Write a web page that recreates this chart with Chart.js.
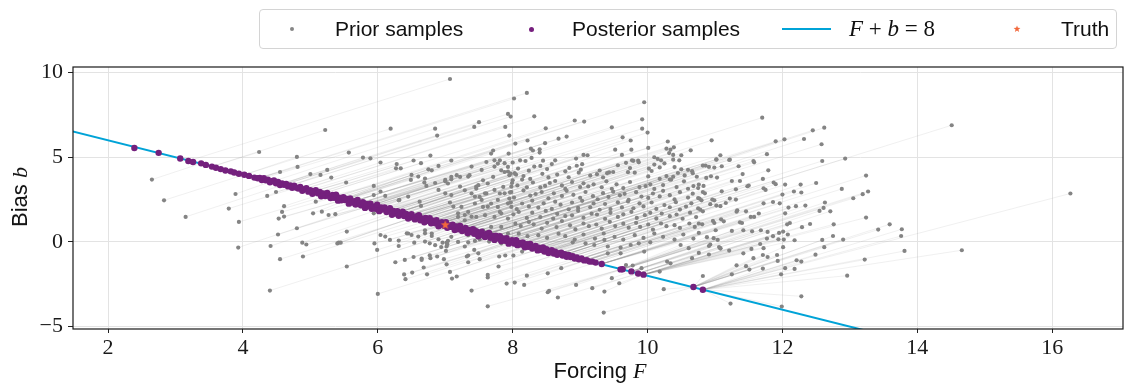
<!DOCTYPE html>
<html>
<head>
<meta charset="utf-8">
<script src="https://cdn.jsdelivr.net/npm/chart.js@4.4.0/dist/chart.umd.min.js"></script>
<style>
  html, body { margin: 0; padding: 0; background: #fff; }
  #wrap { position: relative; width: 1129px; height: 387px; overflow: hidden; }
  #plot { position: absolute; left: 0; top: 0; }
  .ov { position: absolute; color: #111; white-space: nowrap; z-index: 2; }
  .sans { font-family: 'Liberation Sans', 'DejaVu Sans', sans-serif; font-size: 21px; }
  .math { font-family: 'Liberation Serif', 'DejaVu Serif', serif; }
  .math i { font-style: italic; }
  #legendBox { position: absolute; left: 259px; top: 9px; width: 858px; height: 40px; box-sizing: border-box;
               border: 1px solid #d4d4d4; border-radius: 4px; background: rgba(255,255,255,0.85); z-index: 1; }
  .dot { position: absolute; border-radius: 50%; z-index: 2; }
</style>
</head>
<body>
<div id="wrap">
  <canvas id="plot" width="1129" height="387"></canvas>

  <div id="legendBox"></div>
  <div class="dot" style="left:290px;top:27px;width:4px;height:4px;background:#868686"></div>
  <div class="ov sans" style="left:335px;top:14px;line-height:30px">Prior samples</div>
  <div class="dot" style="left:528.5px;top:26.5px;width:5px;height:5px;background:#761f7e"></div>
  <div class="ov sans" style="left:572px;top:14px;line-height:30px">Posterior samples</div>
  <div style="position:absolute;left:782px;top:28px;width:49px;height:2px;background:#00a3d7;z-index:2"></div>
  <div class="ov math" style="left:849px;top:14px;line-height:30px;font-size:23px"><i>F</i> + <i>b</i> = 8</div>
  <svg style="position:absolute;left:1013px;top:25px;z-index:2" width="8" height="8" viewBox="0 0 10 10">
    <polygon points="5,0.5 6.12,3.46 9.28,3.61 6.81,5.59 7.65,8.64 5,6.9 2.35,8.64 3.19,5.59 0.72,3.61 3.88,3.46" fill="#f2683c"/>
  </svg>
  <div class="ov sans" style="left:1061px;top:14px;line-height:30px">Truth</div>

  <div class="ov sans" style="left:20px;top:197px;transform:translate(-50%,-50%) rotate(-90deg);font-size:22px">Bias <span class="math"><i>b</i></span></div>
  <div class="ov sans" style="left:600px;top:371px;transform:translate(-50%,-50%);font-size:22px">Forcing <span class="math"><i>F</i></span></div>
</div>

<script>
// axis ticks
const xTicks = [2, 4, 6, 8, 10, 12, 14, 16];
const yTicks = [-5, 0, 5, 10];

// reference line F + b = 8, two end points
const lineF = [0, 14];
const lineB = [8, -6];

// true parameter
const truth = [7, 1];

// prior ensemble [F, b]
const priorSamples = [
  [2.65,3.68],[2.83,2.46],[3.15,1.48],[3.79,1.97],[3.89,2.83],[3.94,1.18],[3.93,-0.33],[4.40,-2.87],[4.41,-0.24],[4.55,-1.02],
  [4.52,0.44],[4.24,5.31],[4.36,2.72],[4.49,2.95],[4.55,4.13],[4.61,2.11],[4.58,1.77],[4.61,1.50],[4.53,1.38],[4.80,5.02],
  [4.81,4.43],[4.80,0.81],[5.22,6.61],[6.19,6.69],[6.85,6.69],[6.88,6.28],[7.50,7.07],[7.43,6.79],[7.89,6.79],[7.95,6.28],
  [8.04,5.81],[5.57,5.28],[5.78,4.98],[5.89,4.94],[6.78,5.10],[7.09,4.81],[7.71,5.40],[7.68,5.22],[7.94,5.22],[7.07,9.62],
  [8.02,8.47],[7.93,7.56],[7.97,7.40],
  [5.25,4.25],[5.00,4.01],[5.15,3.96],[5.31,3.80],[5.53,3.51],[6.04,4.69],[6.28,4.60],[6.34,4.35],[6.27,4.35],[6.53,4.81],
  [6.64,4.65],[6.75,4.29],[6.90,4.49],[6.50,3.96],[6.60,3.86],[6.49,3.66],[6.69,3.51],[6.72,3.31],[5.94,3.31],[6.04,2.98],
  [6.11,2.72],[5.94,2.77],[6.32,2.48],[6.45,2.68],[6.62,2.38],[6.64,2.13],[6.90,3.07],[7.00,2.87],[7.09,2.77],[7.07,2.33],
  [7.12,2.09],[7.17,3.94],[7.22,3.27],[7.34,3.86],[7.39,4.45],[7.46,3.27],[7.54,4.25],[7.00,3.66],[7.09,3.70],[7.44,2.68],
  [7.54,2.48],[7.59,2.87],[7.63,2.09],[7.73,3.07],[7.78,2.48],[7.83,1.69],[7.88,2.87],[7.93,2.28],[7.98,3.27],[8.03,4.06],
  [7.73,4.45],[7.88,4.65],[7.93,4.16],[7.29,1.59],[7.39,1.50],[7.19,1.69],[5.04,1.69],[5.17,1.79],[5.27,1.59],[5.37,1.64],
  [5.08,2.38],[5.54,0.61],[5.94,1.69],[6.04,0.41],[6.11,0.32],[6.18,0.12],[6.31,0.08],[6.43,0.51],[6.50,0.41],[6.60,0.32],
  [6.70,0.02],[6.80,0.35],[6.90,0.16],[7.02,-0.04],[6.70,0.51],[4.88,-0.04],[5.42,-0.04],
  [6.31,2.46],[6.45,0.50],[6.80,4.23],[6.85,3.48],[7.00,3.58],[7.04,3.45],[7.09,3.84],[7.22,3.84],[7.29,3.05],[7.36,3.94],
  [7.39,2.86],[7.46,3.15],[7.49,3.35],[7.51,2.66],[7.56,3.64],[7.61,2.86],[7.63,3.45],[7.71,3.84],[7.78,4.63],[7.81,2.86],
  [7.83,4.23],[7.86,3.25],[7.93,4.43],[7.95,2.56],[7.98,2.95],[8.00,3.64],[7.24,2.07],[7.34,1.77],[7.44,2.27],[7.56,2.07],
  [7.68,2.27],[7.78,2.07],[7.98,2.07],[7.19,1.48],[7.29,1.28],[7.46,1.48],[7.59,1.58],[7.73,1.48],[7.81,1.77],[7.93,1.38],
  [7.83,0.89],[7.93,0.50],[7.68,0.89],[7.56,0.69],[7.44,0.79],[7.34,0.40],[7.19,0.00],[7.09,0.30],[6.80,0.50],[6.70,0.69],
  [6.85,-0.19],[6.94,-0.30],[6.77,-0.79],[6.53,-0.89],[6.65,-0.98],[6.70,3.74],[7.61,4.72],[7.73,4.82],[7.81,4.82],[7.88,4.13],
  [7.95,3.94],
  [4.94,-0.15],[4.89,-0.86],[5.40,-0.09],[5.45,-0.04],[5.54,-1.45],[6.00,-3.07],[5.95,-0.09],[5.99,-0.47],[6.31,-0.24],[6.54,-0.04],
  [6.77,-0.08],[6.96,-0.04],[7.04,0.06],[7.02,-0.27],[7.01,-0.53],[7.03,-0.14],[6.26,-1.20],[6.40,-1.06],[6.65,-1.06],[6.78,-0.96],
  [6.88,-0.86],[6.98,-1.02],[7.02,-1.32],[6.68,-1.51],[7.07,-1.77],[7.17,-2.04],[7.10,-2.16],[6.39,-1.92],[6.41,-2.20],[6.51,-1.81],
  [6.73,-1.91],[7.32,-0.86],[7.34,-0.80],[7.49,-0.67],[7.51,-1.02],[7.34,-1.20],[7.43,-0.47],[7.44,0.06],[7.51,0.16],[7.29,-0.27],
  [7.34,-0.02],[7.63,-1.95],[7.63,-2.10],[7.79,-1.45],[7.80,-0.86],[7.89,-0.80],[8.01,-0.80],[7.39,-2.87],[7.63,-3.80],[7.91,-2.46],
  [8.03,-2.40],[7.65,0.02],[7.83,-0.08],[7.88,0.12],
  [8.21,8.80],[8.32,7.42],[9.95,8.25],[9.92,7.24],[9.92,6.69],[10.00,6.46],[8.49,6.71],[8.92,7.17],[9.06,7.11],[9.47,6.77],
  [9.63,6.18],[9.75,5.99],[8.68,6.10],[8.80,6.22],[8.22,5.99],[8.48,5.83],[8.27,5.51],[8.30,5.40],[8.40,5.47],[8.40,5.28],
  [9.52,5.45],[9.76,5.45],[9.62,5.14],[9.05,5.14],[9.11,5.12],[8.94,4.92],[8.28,4.96],[10.01,5.55],[10.30,5.93],[10.28,5.51],
  [10.34,5.45],[10.32,5.25],[10.39,5.59],[10.50,5.12],[10.64,5.41],[10.95,6.00],[11.08,5.12],[11.70,7.34],[11.90,5.94],[12.03,6.06],
  [11.77,5.18],[10.10,5.00],[10.15,4.90],[10.20,4.82],[10.38,4.86],[10.47,4.82],[11.02,4.86],[11.22,4.86],[11.57,4.78],[8.11,4.82],
  [8.45,4.80],[8.63,4.82],[9.77,4.82],[9.86,4.80],[10.38,5.14],
  [14.51,6.89],[16.27,2.86],[14.66,-0.49],[13.81,-0.53],[12.45,6.59],[12.62,6.75],[12.32,6.08],[12.58,5.77],[12.59,4.78],[12.93,4.92],
  [13.24,3.92],[12.04,3.39],[12.27,3.39],[12.50,3.48],[12.88,3.13],[13.27,2.98],[13.19,2.82],[13.05,2.58],[12.00,2.80],[12.17,2.98],
  [12.28,2.92],[11.96,2.28],[12.09,2.03],[12.20,2.11],[12.34,2.15],[12.63,2.33],[12.61,2.01],[12.55,1.83],[12.71,1.81],[12.04,1.69],
  [12.07,1.04],[12.11,1.12],[12.41,1.06],[12.76,1.04],[12.29,0.87],[13.24,1.44],[13.59,1.04],[13.42,0.73],[13.77,0.75],[13.76,0.35],
  [11.95,0.53],[12.01,0.61],[12.08,0.44],[11.94,0.16],[12.02,0.14],[12.18,0.10],[12.59,0.12],[12.75,0.35],[12.90,0.14],[12.01,-0.31],
  [12.62,-0.31],[12.49,-0.75],[11.93,-1.12],[12.21,-1.08],[12.28,-1.16],[13.22,-1.04],[12.18,-1.59],[11.98,-1.91],[12.96,-1.99],[12.28,-3.21],
  [11.99,-3.81],
  [11.02,4.88],[11.21,4.84],[11.58,4.70],[10.82,4.51],[10.86,4.51],[10.91,4.43],[10.99,4.39],[11.10,4.47],[11.35,4.47],[11.79,4.23],
  [11.41,4.01],[10.94,3.88],[11.03,3.80],[10.87,3.78],[11.25,3.60],[11.37,3.60],[11.71,3.72],[11.87,3.51],[11.90,3.41],[10.76,3.39],
  [10.83,3.31],[11.50,3.33],[11.48,3.29],[11.31,3.11],[11.72,3.17],[11.75,3.07],[10.82,2.95],[10.85,2.87],[11.10,2.99],[10.77,2.56],
  [10.80,2.46],[10.96,2.50],[10.99,2.46],[11.22,2.56],[11.31,2.50],[11.72,2.28],[11.86,2.36],[10.93,2.23],[11.02,2.15],[11.08,2.11],
  [11.16,2.30],[11.33,1.87],[11.46,1.81],[11.32,1.79],[10.78,1.91],[10.82,1.81],[11.53,1.48],[11.58,1.48],[11.65,1.68],[10.97,1.24],
  [10.99,1.12],[11.09,1.34],[11.13,1.22],[11.37,1.16],[11.40,1.12],[10.76,1.09],[10.81,1.04],[11.68,0.69],[11.78,0.59],[11.86,0.34],
  [11.01,0.69],[11.25,0.65],[11.42,0.69],[11.55,0.63],[11.77,0.20],[10.76,0.53],[10.88,0.28],[10.98,0.22],[11.04,0.12],[11.06,-0.30],
  [11.08,-0.39],[10.93,-0.15],[10.91,-0.24],[11.21,-0.51],[11.42,-0.67],[11.54,-0.41],[11.67,-0.12],[10.76,-0.65],[10.91,-0.74],[11.78,-0.89],
  [11.71,-0.77],[11.32,-1.38],[11.46,-1.43],[11.51,-1.63],[11.71,-1.57],[11.25,-1.91],[10.82,-2.01],[11.23,-3.64],
  [8.14,-0.57],[8.52,-1.85],[8.72,-1.55],[8.21,-1.99],[8.17,-2.54],[8.54,-2.89],[8.52,-2.97],[8.67,-3.28],[8.94,-2.54],[9.18,-2.73],
  [9.36,-2.93],[9.47,-2.14],[9.58,-2.44],[9.35,-4.17],[8.89,-0.02],[9.08,-0.08],[9.21,-0.18],[9.36,0.12],[9.41,-0.27],[9.60,-0.33],
  [9.75,-0.18],[9.87,-0.08],[9.95,-0.57],[10.04,-0.02],[9.41,-0.67],[9.60,-0.67],[9.68,-1.36],[9.78,-1.39],[9.91,-1.55],[10.18,-1.75],
  [10.24,-2.79],[10.29,-1.16],[10.34,-1.26],[10.49,-0.18],[10.61,-0.37],[10.66,-0.96],[11.08,-0.37],[11.57,-0.96],[11.72,-0.37],[11.92,-0.77],
  [12.04,-1.55],
  [8.00,4.69],[8.08,4.33],[8.19,4.78],[8.24,4.21],[8.32,4.45],[8.41,4.49],[8.51,4.30],[8.58,4.60],[8.84,4.37],[8.95,4.50],
  [9.03,4.59],[9.01,4.27],[9.29,4.22],[9.43,4.11],[9.56,4.53],[9.68,4.67],[9.74,4.36],[9.79,4.79],[9.87,4.70],[10.02,4.33],
  [10.10,4.57],[10.18,4.40],[10.25,4.64],[10.40,4.42],[10.50,4.29],[10.60,4.26],[10.66,4.18],
  [7.97,4.04],[8.05,3.97],[8.16,3.89],[8.26,3.72],[8.44,4.02],[8.53,3.81],[8.66,3.98],[8.78,4.17],[8.83,3.82],[8.98,4.09],
  [9.15,3.92],[9.25,4.00],[9.34,3.81],[9.40,4.06],[9.49,4.13],[9.71,4.12],[9.81,4.09],[10.01,3.87],[10.06,4.19],[10.18,3.73],
  [10.28,3.89],[10.33,3.68],[10.38,3.85],[10.45,4.07],[10.55,3.93],[10.67,4.06],[10.73,3.85],
  [7.99,3.48],[8.07,3.34],[8.14,3.68],[8.21,3.23],[8.30,3.51],[8.41,3.22],[8.48,3.31],[8.55,3.48],[8.63,3.60],[8.73,3.34],
  [8.78,3.13],[8.88,3.54],[9.00,3.24],[9.05,3.46],[9.12,3.28],[9.20,3.40],[9.32,3.23],[9.39,3.58],[9.47,3.14],[9.54,3.40],
  [9.64,3.18],[9.74,3.54],[9.88,3.24],[9.97,3.30],[10.04,3.40],[10.10,3.13],[10.23,3.36],[10.35,3.68],[10.43,3.24],[10.54,3.58],
  [10.60,3.14],[10.68,3.30],[10.75,3.18],
  [7.96,2.93],[8.02,2.62],[8.16,3.04],[8.26,2.74],[8.34,2.83],[8.43,2.95],[8.53,2.58],[8.61,2.87],[8.73,2.72],[8.80,3.02],
  [8.90,2.78],[9.00,2.61],[9.08,2.95],[9.19,2.70],[9.26,2.52],[9.34,2.88],[9.42,2.66],[9.49,2.97],[9.59,2.75],[9.66,2.84],
  [9.72,2.49],[9.83,2.94],[9.91,2.68],[10.01,2.60],[10.08,2.86],[10.18,2.69],[10.23,3.02],[10.33,2.76],[10.40,2.51],[10.48,2.94],
  [10.60,2.62],[10.67,2.85],[10.75,2.59],
  [7.97,2.34],[8.06,1.94],[8.14,2.27],[8.24,2.10],[8.29,2.44],[8.38,2.03],[8.46,2.28],[8.58,1.95],[8.63,2.38],[8.71,2.20],
  [8.83,1.93],[8.88,2.33],[8.97,2.01],[9.03,2.43],[9.15,2.05],[9.20,2.27],[9.29,1.90],[9.37,2.24],[9.45,1.94],[9.56,2.34],
  [9.62,2.04],[9.71,2.39],[9.79,1.99],[9.88,2.28],[9.94,2.10],[10.06,2.33],[10.13,1.95],[10.25,2.18],[10.33,2.05],[10.42,2.35],
  [10.48,1.91],[10.57,2.09],[10.65,2.28],[10.75,1.98],
  [8.01,1.63],[8.09,1.77],[8.21,1.42],[8.29,1.73],[8.41,1.47],[8.49,1.83],[8.60,1.38],[8.66,1.66],[8.78,1.53],[8.88,1.57],
  [8.97,1.84],[9.05,1.43],[9.17,1.67],[9.25,1.62],[9.37,1.37],[9.45,1.72],[9.56,1.48],[9.64,1.63],[9.76,1.78],[9.84,1.42],
  [9.96,1.58],[10.04,1.72],[10.13,1.39],[10.21,1.68],[10.33,1.52],[10.43,1.62],[10.52,1.37],[10.63,1.73],[10.72,1.47],
  [8.04,1.08],[8.12,0.94],[8.24,1.18],[8.31,1.04],[8.43,0.79],[8.51,1.13],[8.65,0.88],[8.73,1.23],[8.85,0.98],[8.93,0.74],
  [9.05,1.09],[9.13,0.93],[9.24,1.03],[9.32,0.79],[9.44,1.19],[9.52,0.94],[9.64,1.08],[9.72,0.84],[9.83,1.13],[9.89,0.89],
  [10.01,1.03],[10.08,0.73],[10.20,1.09],[10.28,0.93],[10.40,0.99],[10.48,0.83],[10.62,1.09],[10.70,0.89],
  [8.09,0.49],[8.22,0.34],[8.38,0.40],[8.51,0.24],[8.68,0.49],[8.78,0.34],[8.92,0.14],[9.05,0.44],[9.22,0.20],[9.35,0.50],
  [9.51,0.30],[9.64,0.14],[9.81,0.40],[9.94,0.24],[10.10,0.50],[10.23,0.30],[10.40,0.14],[10.53,0.44],[10.68,0.20]
];

// posterior ensemble [F, b], collapsed onto the ridge
const posteriorSamples = [
  [2.39,5.55],[2.75,5.26],[3.07,4.93],[3.19,4.78],[3.26,4.72],[3.38,4.64],[3.45,4.55],[3.54,4.45],[3.60,4.38],[3.67,4.30],
  [3.74,4.22],[3.82,4.17],[3.87,4.10],[3.94,4.03],[4.02,3.97],[4.09,3.90],[4.17,3.80],[4.22,3.76],
  [4.25,3.78],[4.28,3.66],[4.31,3.77],[4.34,3.64],[4.37,3.68],[4.40,3.52],[4.43,3.58],[4.46,3.63],[4.49,3.47],[4.52,3.54],
  [4.55,3.36],[4.58,3.45],[4.61,3.38],[4.64,3.43],[4.67,3.28],[4.70,3.34],[4.73,3.20],[4.76,3.32],[4.79,3.21],[4.82,3.15],
  [4.85,3.25],[4.88,3.02],[4.91,3.11],[4.94,3.18],[4.97,2.97],[5.00,3.06],[5.03,2.85],[5.05,2.98],[5.08,3.06],[5.11,2.87],
  [5.14,2.95],[5.16,2.70],[5.19,2.86],[5.22,2.71],[5.25,2.90],[5.27,2.73],[5.30,2.59],[5.33,2.77],[5.35,2.61],[5.38,2.79],
  [5.41,2.44],[5.43,2.61],[5.46,2.46],[5.49,2.64],[5.51,2.48],[5.54,2.54],[5.57,2.26],[5.59,2.57],[5.62,2.33],[5.65,2.41],
  [5.67,2.21],[5.70,2.48],[5.73,2.28],[5.75,2.16],[5.78,2.34],[5.81,2.01],[5.83,2.24],[5.86,2.11],[5.89,2.26],[5.91,1.96],
  [5.94,2.10],[5.97,1.96],[5.99,2.20],[6.02,1.82],[6.05,2.04],[6.07,1.91],[6.10,2.03],[6.13,1.77],[6.15,1.87],[6.18,1.99],
  [6.21,1.60],[6.23,1.83],[6.26,1.68],[6.29,1.82],[6.31,1.55],[6.34,1.66],[6.37,1.79],[6.39,1.53],[6.42,1.66],[6.45,1.38],
  [6.47,1.56],[6.50,1.64],[6.53,1.43],[6.55,1.33],[6.58,1.52],[6.61,1.58],[6.63,1.28],[6.66,1.39],[6.69,1.16],[6.71,1.41],
  [6.74,1.25],[6.77,1.40],[6.79,1.10],[6.82,1.25],[6.85,1.10],[6.87,1.28],[6.90,0.92],[6.93,1.09],[6.95,1.16],[6.98,0.95],
  [7.01,1.17],[7.03,0.84],[7.06,0.98],[7.09,0.89],[7.11,1.02],[7.14,0.70],[7.17,0.91],[7.19,0.75],[7.22,0.94],[7.25,0.65],
  [7.27,0.74],[7.30,0.82],[7.33,0.53],[7.35,0.71],[7.38,0.59],[7.41,0.76],[7.43,0.48],[7.46,0.63],[7.49,0.34],[7.51,0.52],
  [7.54,0.60],[7.57,0.38],[7.59,0.29],[7.62,0.48],[7.65,0.53],[7.67,0.25],[7.70,0.35],[7.73,0.12],[7.75,0.37],[7.78,0.21],
  [7.81,0.34],[7.83,0.06],[7.86,0.21],[7.89,0.07],[7.91,0.22],[7.94,-0.10],[7.97,0.05],[7.99,0.11],[8.02,-0.09],[8.05,0.11],
  [8.07,-0.19],[8.10,-0.06],[8.13,-0.15],[8.15,-0.03],[8.18,-0.32],[8.21,-0.14],[8.23,-0.29],[8.26,-0.12],[8.29,-0.39],[8.31,-0.30],
  [8.34,-0.23],[8.37,-0.50],[8.39,-0.34],[8.42,-0.46],[8.45,-0.33],[8.47,-0.56],[8.50,-0.43],[8.53,-0.65],[8.55,-0.53],[8.58,-0.48],
  [8.61,-0.68],[8.63,-0.57],[8.66,-0.76],[8.69,-0.66],[8.72,-0.63],[8.74,-0.80],[8.77,-0.73],[8.80,-0.88],[8.83,-0.77],[8.86,-0.89],
  [8.89,-0.84],[8.92,-0.98],[8.95,-0.92],[8.98,-1.02],[9.02,-0.98],[9.06,-1.09],[9.10,-1.08],[9.14,-1.16],[9.18,-1.16],
  [9.23,-1.22],[9.32,-1.30],[9.60,-1.62],[9.63,-1.61],[9.76,-1.74],[9.86,-1.86],[9.94,-1.93],[10.68,-2.66],[10.82,-2.82]
];

// each prior member is linked to the posterior member it slides onto
// (moving down-left along the slow direction until it meets F + b = 8)
function buildPaths() {
  const out = [];
  priorSamples.forEach(([f, b]) => {
    const hit = f - (f + b - 8) / 2.26;
    let best = posteriorSamples[0];
    posteriorSamples.forEach(p => { if (Math.abs(p[0] - hit) < Math.abs(best[0] - hit)) best = p; });
    out.push({ x: f, y: b }, { x: best[0], y: best[1] }, { x: null, y: null });
  });
  return out;
}

function starImage(r, color) {
  const c = document.createElement('canvas');
  const s = Math.ceil(r * 2) + 2;
  c.width = c.height = s;
  const g = c.getContext('2d');
  g.fillStyle = color;
  g.beginPath();
  for (let i = 0; i < 10; i++) {
    const rad = i % 2 ? r * 0.42 : r;
    const a = -Math.PI / 2 + i * Math.PI / 5;
    g.lineTo(s / 2 + rad * Math.cos(a), s / 2 + rad * Math.sin(a));
  }
  g.closePath();
  g.fill();
  return c;
}

// black box around the plotting area
const frame = {
  id: 'frame',
  afterDraw(chart) {
    const { ctx, chartArea: a } = chart;
    ctx.save();
    ctx.strokeStyle = '#1a1a1a';
    ctx.lineWidth = 1.2;
    ctx.strokeRect(a.left, a.top, a.right - a.left, a.bottom - a.top);
    ctx.restore();
  }
};

const tickFont = { family: "'Liberation Serif', 'DejaVu Serif', serif", size: 22 };
const pathColor = 'rgba(140,140,140,0.17)';

new Chart(document.getElementById('plot'), {
  type: 'scatter',
  data: {
    datasets: [
      {
        label: 'Truth',
        data: [{ x: truth[0], y: truth[1] }],
        pointStyle: starImage(4.8, '#f2683c'),
        pointRadius: 5,
        order: 0
      },
      {
        label: 'Posterior samples',
        data: posteriorSamples.map(([x, y]) => ({ x, y })),
        pointRadius: 3.2,
        backgroundColor: '#74207d',
        borderWidth: 0,
        order: 1
      },
      {
        label: 'F + b = 8',
        type: 'line',
        data: lineF.map((x, i) => ({ x, y: lineB[i] })),
        borderColor: '#00a3d7',
        borderWidth: 2,
        pointRadius: 0,
        order: 2
      },
      {
        label: 'Prior samples',
        data: priorSamples.map(([x, y]) => ({ x, y })),
        pointRadius: 2.1,
        backgroundColor: '#848484',
        borderWidth: 0,
        order: 3
      },
      {
        label: 'paths',
        type: 'line',
        data: buildPaths(),
        borderColor: pathColor,
        borderWidth: 0.8,
        pointRadius: 0,
        spanGaps: false,
        segment: { borderColor: pathColor },
        order: 4
      }
    ]
  },
  options: {
    responsive: false,
    animation: false,
    events: [],
    devicePixelRatio: 1,
    layout: { padding: { top: 67, right: 1, left: 0, bottom: 0 } },
    plugins: { legend: { display: false }, tooltip: { enabled: false } },
    scales: {
      x: {
        type: 'linear',
        min: 1.48,
        max: 17.05,
        afterBuildTicks: s => { s.ticks = xTicks.map(value => ({ value })); },
        afterFit: s => { s.height = 58; },
        border: { display: false },
        grid: { color: '#e3e3e3', lineWidth: 1, tickLength: 4, tickColor: '#222', tickWidth: 1 },
        ticks: { font: tickFont, color: '#1a1a1a', padding: 2, maxRotation: 0, autoSkip: false }
      },
      y: {
        type: 'linear',
        min: -5.14,
        max: 10.33,
        afterBuildTicks: s => { s.ticks = yTicks.map(value => ({ value })); },
        afterFit: s => { s.width = 73; },
        border: { display: false },
        grid: { color: '#e3e3e3', lineWidth: 1, tickLength: 5, tickColor: '#222', tickWidth: 1 },
        ticks: {
          font: tickFont, color: '#1a1a1a', padding: 5, autoSkip: false,
          callback: v => v < 0 ? '\u2212' + Math.abs(v) : String(v)
        }
      }
    }
  },
  plugins: [frame]
});
</script>
</body>
</html>
